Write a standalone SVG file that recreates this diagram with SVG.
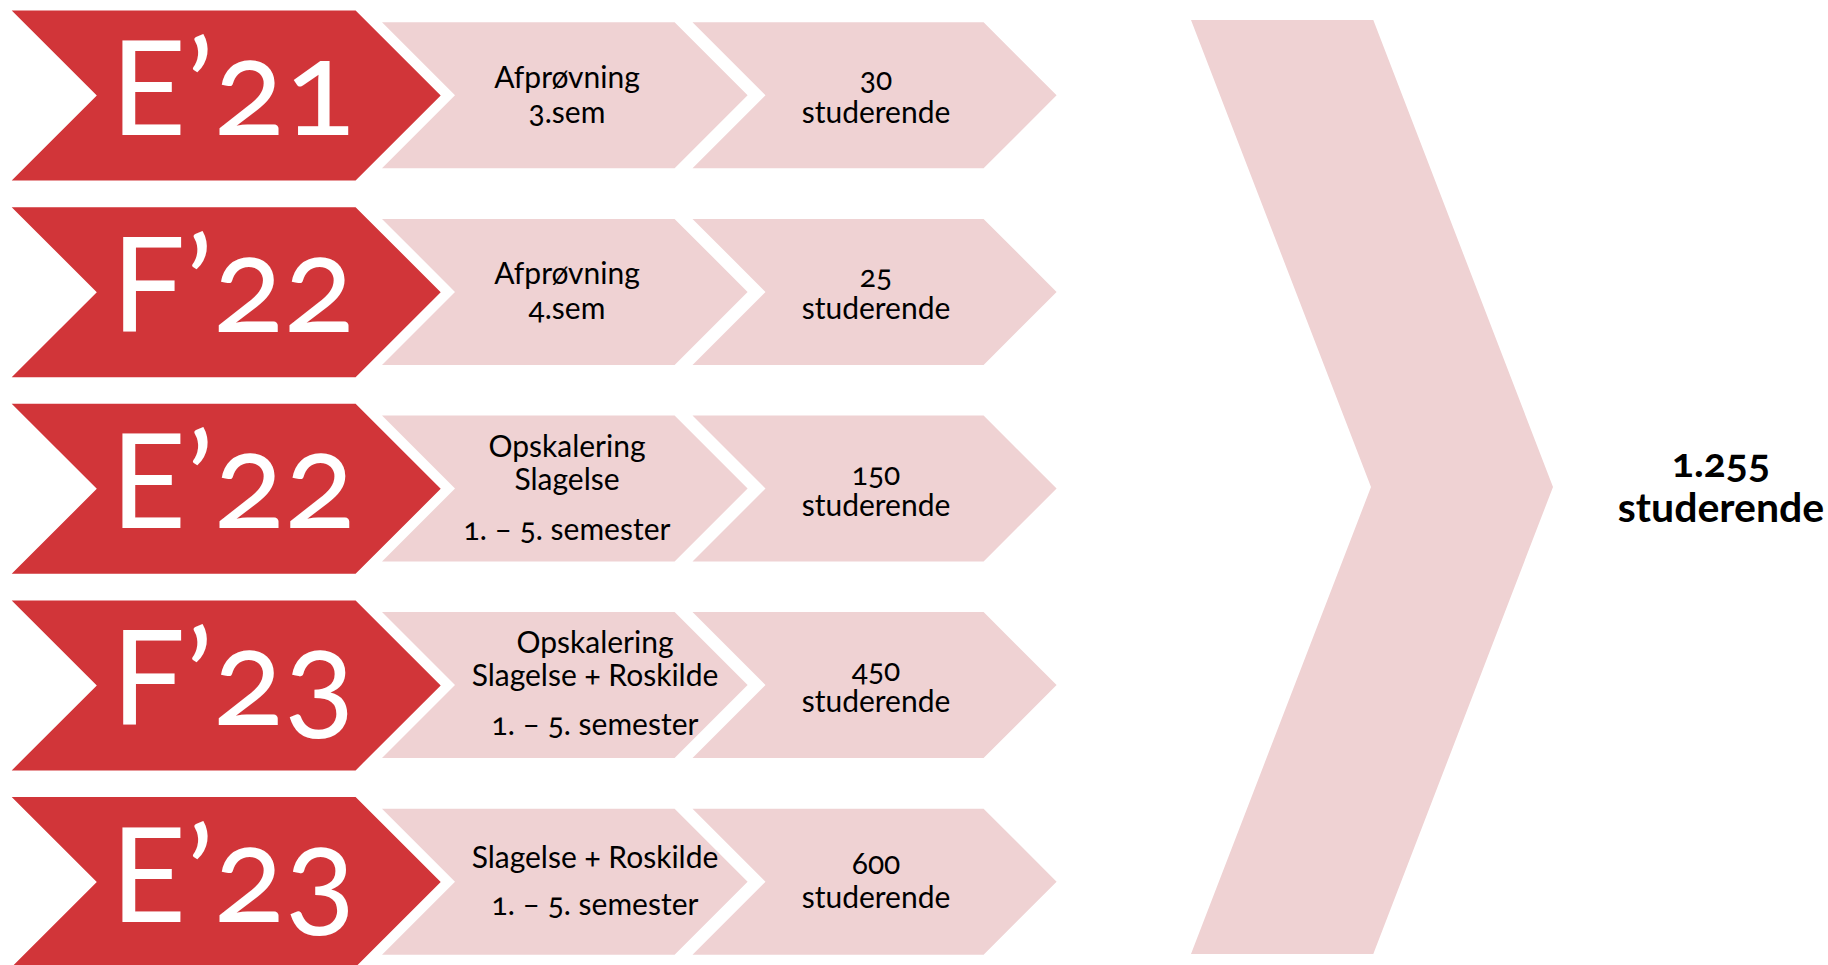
<svg xmlns="http://www.w3.org/2000/svg" width="1828" height="965" viewBox="0 0 1828 965">
<defs>
<style>
.red{fill:#D13539}
.pink{fill:#EFD2D3}
.big{font-family:Lato,"Open Sans","Liberation Sans",sans-serif;font-size:131px;fill:#FFFFFF;text-anchor:middle;font-variant-numeric:oldstyle-nums;font-feature-settings:"onum" 1}
.t{font-family:Lato,"Open Sans","Liberation Sans",sans-serif;font-size:30px;fill:#000000;text-anchor:middle;font-variant-numeric:oldstyle-nums;font-feature-settings:"onum" 1}
.tb{font-family:Lato,"Open Sans","Liberation Sans",sans-serif;font-size:41px;font-weight:bold;fill:#000000;text-anchor:middle;font-variant-numeric:oldstyle-nums;font-feature-settings:"onum" 1}
</style>
<polygon id="redShape" points="11.7,0 355.6,0 440.7,85 355.6,170 11.7,170 96.8,85"/>
<polygon id="pinkA" points="382,0 674.6,0 747.6,73 674.6,146 382,146 455,73"/>
<polygon id="pinkB" points="692.5,0 983.6,0 1056.6,73 983.6,146 692.5,146 765.5,73"/>
</defs>
<rect width="1828" height="965" fill="#FFFFFF"/>

<g id="row1" transform="translate(0,22.3)">
<g id="label-E21"><use href="#redShape" class="red" y="-11.7"/><text class="big" x="233" y="112.8">E’21</text></g>
<g id="step-E21-a"><use href="#pinkA" class="pink"/><text class="t" x="567" y="65.5">Afprøvning</text><text class="t" x="567" y="100.5">3.sem</text></g>
<g id="step-E21-b"><use href="#pinkB" class="pink"/><text class="t" x="876" y="67.5">30</text><text class="t" x="876" y="100.5">studerende</text></g>
</g>

<g id="row2" transform="translate(0,218.9)">
<g id="label-F22"><use href="#redShape" class="red" y="-11.7"/><text class="big" x="233" y="112.8">F’22</text></g>
<g id="step-F22-a"><use href="#pinkA" class="pink"/><text class="t" x="567" y="65.5">Afprøvning</text><text class="t" x="567" y="100.5">4.sem</text></g>
<g id="step-F22-b"><use href="#pinkB" class="pink"/><text class="t" x="876" y="68.5">25</text><text class="t" x="876" y="100.5">studerende</text></g>
</g>

<g id="row3" transform="translate(0,415.5)">
<g id="label-E22"><use href="#redShape" class="red" y="-11.7"/><text class="big" x="233" y="112.8">E’22</text></g>
<g id="step-E22-a"><use href="#pinkA" class="pink"/><text class="t" x="567" y="41">Opskalering</text><text class="t" x="567" y="74.5">Slagelse</text><text class="t" x="567" y="124.5">1. – 5. semester</text></g>
<g id="step-E22-b"><use href="#pinkB" class="pink"/><text class="t" x="876" y="69">150</text><text class="t" x="876" y="100">studerende</text></g>
</g>

<g id="row4" transform="translate(0,612.1)">
<g id="label-F23"><use href="#redShape" class="red" y="-11.7"/><text class="big" x="233" y="112.8">F’23</text></g>
<g id="step-F23-a"><use href="#pinkA" class="pink"/><text class="t" x="595" y="41">Opskalering</text><text class="t" x="595" y="73.5">Slagelse + Roskilde</text><text class="t" x="595" y="123">1. – 5. semester</text></g>
<g id="step-F23-b"><use href="#pinkB" class="pink"/><text class="t" x="876" y="69">450</text><text class="t" x="876" y="99.5">studerende</text></g>
</g>

<g id="row5" transform="translate(0,808.7)">
<g id="label-E23"><use href="#redShape" class="red" y="-11.7"/><text class="big" x="233" y="112.8">E’23</text></g>
<g id="step-E23-a"><use href="#pinkA" class="pink"/><text class="t" x="595" y="59">Slagelse + Roskilde</text><text class="t" x="595" y="106.5">1. – 5. semester</text></g>
<g id="step-E23-b"><use href="#pinkB" class="pink"/><text class="t" x="876" y="65">600</text><text class="t" x="876" y="99">studerende</text></g>
</g>

<g id="total">
<polygon class="pink" points="1191,20 1373.3,20 1553,487 1373.3,954 1191,954 1371,487"/>
</g>
<g id="total-label">
<text class="tb" x="1721" y="477">1.255</text>
<text class="tb" x="1721" y="521.5">studerende</text>
</g>
<g id="connectors"/>
</svg>
